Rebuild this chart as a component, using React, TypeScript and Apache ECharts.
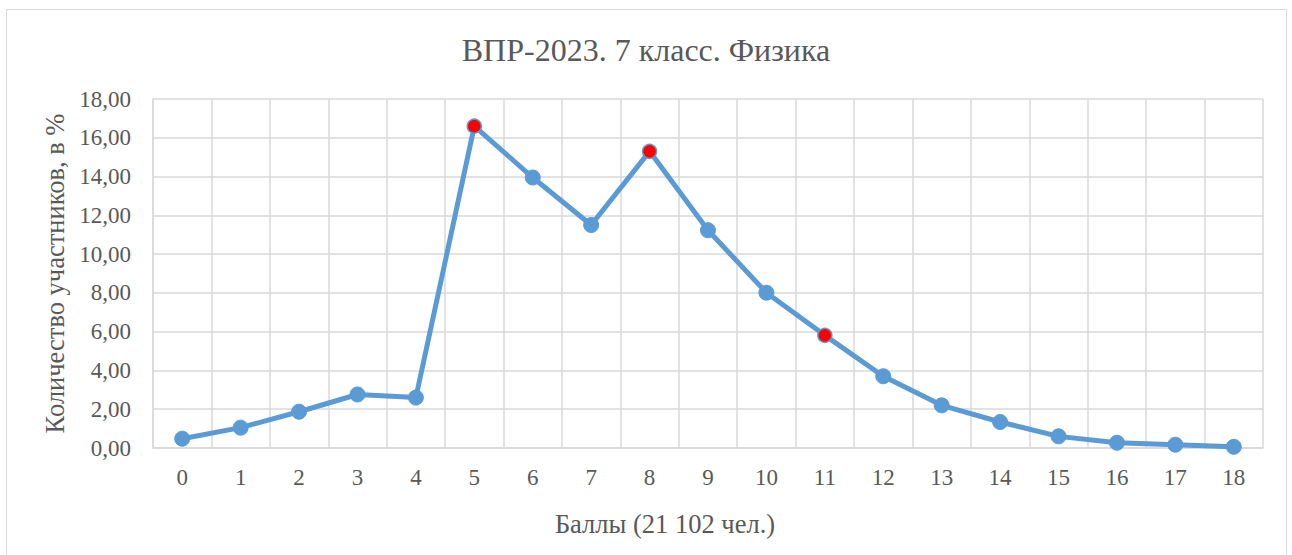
import React, { useEffect, useRef } from "react";
import * as echarts from "echarts";

const categories = ["0","1","2","3","4","5","6","7","8","9","10","11","12","13","14","15","16","17","18"];
const percentValues = [0.48, 1.05, 1.87, 2.76, 2.6, 16.6, 13.95, 11.5, 15.3, 11.23, 8.01, 5.81, 3.7, 2.2, 1.34, 0.6, 0.27, 0.17, 0.06];
const highlightedIndices = [5, 8, 11];
const yTicks = { min: 0, max: 18, interval: 2 };

const titleText = "ВПР-2023. 7 класс. Физика";
const xName = "Баллы (21 102 чел.)";
const yName = "Количество участников, в %";

const BLUE = "#5B9BD5";
const TEXT = "#595959";
const GRID = "#D9D9D9";
const FONT = "'Liberation Serif', 'Times New Roman', serif";

export default function App() {
  const ref = useRef<HTMLDivElement>(null);
  useEffect(() => {
    document.body.style.margin = "0";
    const chart = echarts.init(ref.current!, null, { renderer: "svg" });
    const data = percentValues.map((v, i) =>
      highlightedIndices.includes(i)
        ? { value: v, symbolSize: 14, itemStyle: { color: "#FF0000", borderColor: BLUE, borderWidth: 1.5 } }
        : { value: v }
    );
    chart.setOption({
      animation: false,
      backgroundColor: "#FFFFFF",
      textStyle: { fontFamily: FONT },
      title: {
        text: titleText,
        left: "center",
        top: 29,
        textStyle: { fontFamily: FONT, fontSize: 32, fontWeight: "normal", color: TEXT },
      },
      graphic: [
        {
          type: "rect",
          shape: { x: 6.5, y: 9.5, width: 1280, height: 560 },
          style: { fill: "none", stroke: GRID, lineWidth: 1 },
          silent: true,
          z: -1,
        },
      ],
      grid: { left: 153, right: 29, top: 99, bottom: 107, containLabel: false },
      xAxis: {
        type: "category",
        data: categories,
        boundaryGap: true,
        name: xName,
        nameLocation: "middle",
        nameGap: 62,
        nameTextStyle: { fontFamily: FONT, fontSize: 26.5, color: TEXT, padding: [0, 86, 0, 0] },
        axisLine: { show: true, lineStyle: { color: GRID, width: 1.5 } },
        axisTick: { show: false },
        axisLabel: { fontFamily: FONT, fontSize: 23, color: TEXT, margin: 18, interval: 0 },
        splitLine: { show: true, interval: 0, lineStyle: { color: GRID, width: 1.5 } },
      },
      yAxis: {
        type: "value",
        min: yTicks.min,
        max: yTicks.max,
        interval: yTicks.interval,
        name: yName,
        nameLocation: "middle",
        nameRotate: 90,
        nameGap: 84,
        nameTextStyle: { fontFamily: FONT, fontSize: 26.5, color: TEXT },
        axisLine: { show: true, lineStyle: { color: GRID, width: 1.5 } },
        axisTick: { show: false },
        axisLabel: {
          fontFamily: FONT,
          fontSize: 23,
          color: TEXT,
          margin: 22,
          formatter: (v: number) => v.toFixed(2).replace(".", ","),
        },
        splitLine: { show: true, lineStyle: { color: GRID, width: 1.5 } },
      },
      series: [
        {
          type: "line",
          data,
          symbol: "circle",
          symbolSize: 15,
          lineStyle: { color: BLUE, width: 5 },
          itemStyle: { color: BLUE, borderColor: BLUE, borderWidth: 1 },
        },
      ],
    });
    return () => chart.dispose();
  }, []);
  return <div ref={ref} style={{ width: 1292, height: 555 }} />;
}
